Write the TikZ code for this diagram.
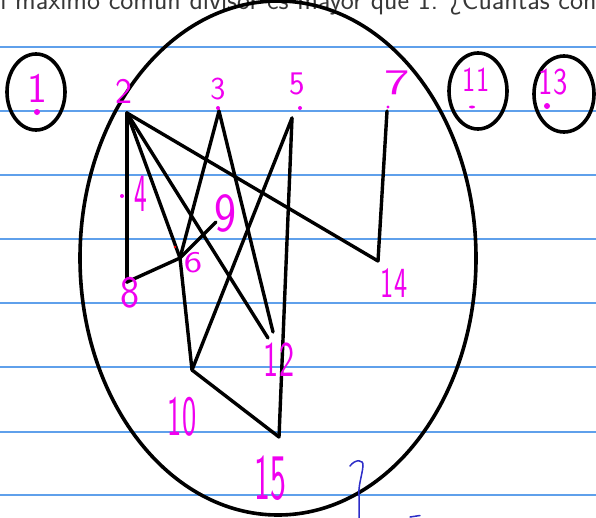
\documentclass[tikz,border=0pt]{standalone}
\usepackage{fontspec}
\usepackage{graphicx}
\definecolor{mag}{RGB}{240,0,240}
\definecolor{rulecol}{RGB}{95,160,235}
\definecolor{pen}{RGB}{45,45,200}
\definecolor{txt}{RGB}{55,55,55}
\newcommand\dg[3]{{\fontsize{#1}{#1}\selectfont\scalebox{#2}[1]{#3}}}
\begin{document}
\begin{tikzpicture}[x=1pt,y=-1pt,
  edge/.style={line width=3.4pt, line cap=round, line join=round},
  ring/.style={line width=3.6pt},
  lab/.style={text=mag, inner sep=0pt, font=\sffamily},
  mdot/.style={fill=mag, draw=none},
  ruling/.style={rulecol, line width=1.4pt}]
\useasboundingbox (0,0) rectangle (596,517);
\begin{scope}
\clip (0,0) rectangle (596,517);
\fill[white] (0,0) rectangle (596,517);
\foreach \yy in {47,111,175,239,303,367,432,495} \draw[ruling] (0,\yy) -- (596,\yy);
\node[anchor=base west, text=txt, inner sep=0pt, font=\sffamily\fontsize{27.7}{27.7}\selectfont] (head) at (15,9.5) {\llap{el }máximo común divisor es mayor que 1. ¿Cuántas con};
% big ellipse and isolated vertices
\draw[ring] (278,258) ellipse [x radius=198, y radius=257];
\draw[ring] (36,92) ellipse [x radius=29, y radius=38];
\draw[ring] (478,91) ellipse [x radius=29, y radius=38];
\draw[ring] (564,94) ellipse [x radius=30, y radius=38];
% vertices
\coordinate (v2) at (127,113);
\coordinate (v3) at (219,111);
\coordinate (v5) at (292,118);
\coordinate (v7) at (387,111);
\coordinate (v14) at (378,261);
\coordinate (v8) at (127,282);
\coordinate (v6) at (180,258);
\coordinate (v9) at (216,222);
\coordinate (v10) at (192,370);
\coordinate (v12a) at (268,338);
\coordinate (v12b) at (273,332);
\coordinate (v15) at (279,437);
% edges
\draw[edge] (v2) -- (v8);
\draw[edge] (v2) -- (v6);
\draw[edge] (v2) -- (v12a);
\draw[edge] (v2) -- (v14);
\draw[edge] (v3) -- (v6);
\draw[edge] (v3) -- (v12b);
\draw[edge] (v5) -- (v10);
\draw[edge] (v5) -- (v15);
\draw[edge] (v6) -- (v10);
\draw[edge] (v7) -- (v14);
\draw[edge] (v8) -- (v6);
\draw[edge] (v6) -- (v9);
\draw[edge] (v10) -- (v15);
% labels
\node[lab] (l1) at (37,88) {\dg{42}{1}{1}};
\node[lab] (l2) at (124,91) {\dg{36}{1}{2}};
\node[lab] (l3) at (218,89) {\dg{32}{1}{3}};
\node[lab] (l5) at (297,84) {\dg{33}{1}{5}};
\node[lab] (l7) at (397,83) {\dg{36}{1.5}{7}};
\node[lab] (l11) at (476,80) {\dg{35}{0.8}{11}};
\node[lab] (l13) at (553,82) {\dg{38}{0.8}{13}};
\node[lab] (l4) at (141,194) {\dg{54}{0.5}{4}};
\node[lab] (l9) at (225,213) {\dg{55}{0.85}{9}};
\node[lab] (l6) at (193,263) {\dg{30}{1.3}{6}};
\node[lab] (l8) at (130,293) {\dg{45}{0.9}{8}};
\node[lab] (l14) at (394,283) {\dg{43}{0.65}{14}};
\node[lab] (l12) at (279,360) {\dg{50}{0.64}{12}};
\node[lab] (l10) at (182,417) {\dg{57}{0.53}{10}};
\node[lab] (l15) at (270,478) {\dg{65}{0.52}{15}};
% magenta dots
\fill[mdot] (37,112) circle (3);
\fill[mdot] (218,108) circle (2);
\fill[mdot] (300,108) circle (2);
\fill[mdot] (388,107) circle (1.6);
\fill[mdot] (472,107) ellipse [x radius=3, y radius=1.5];
\fill[mdot] (547,106) circle (3);
\fill[mdot] (122,196) circle (2);
\fill[red] (175,247) circle (1.3);
% blue pen stroke
\draw[pen, line width=1.5pt, line cap=round] (350,466) .. controls (355,459) and (364,459) .. (363,466) .. controls (362,476) and (358,486) .. (359,496) -- (359,518);
\draw[pen, line width=1.5pt, line cap=round] (410,517) -- (420,515.5);
\end{scope}
\end{tikzpicture}
\end{document}
